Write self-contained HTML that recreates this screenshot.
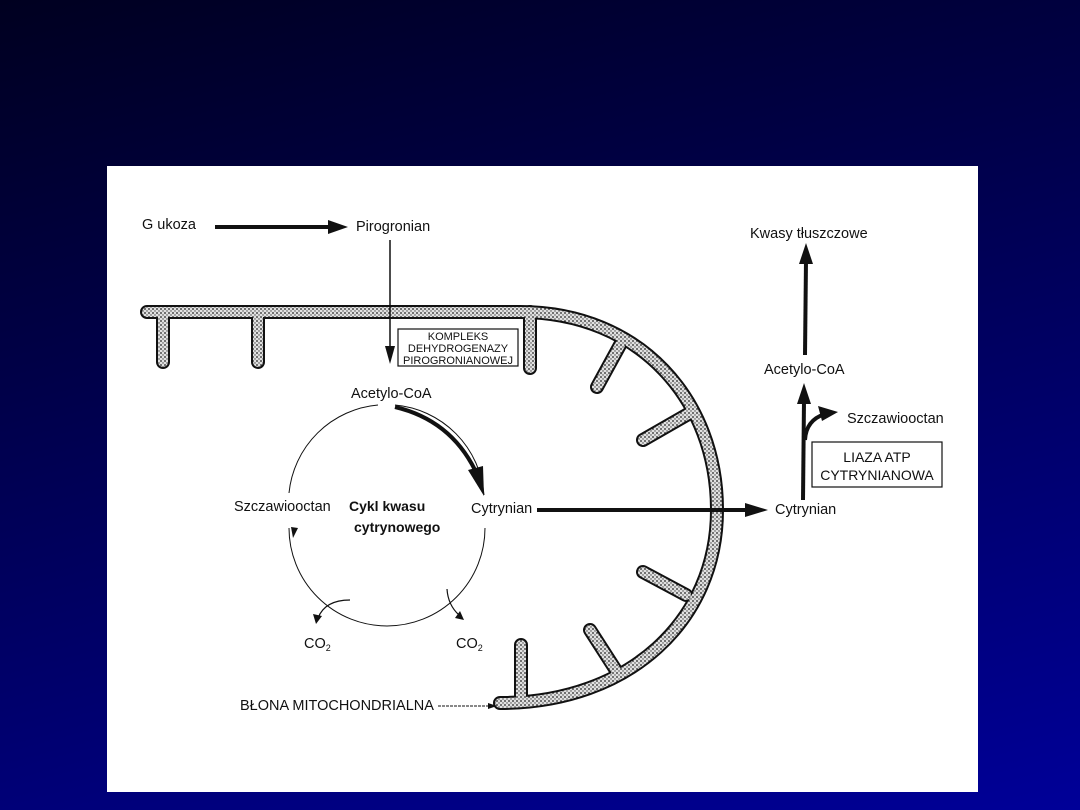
<!DOCTYPE html>
<html><head><meta charset="utf-8"><style>
html,body{margin:0;padding:0;width:1080px;height:810px;overflow:hidden;background:linear-gradient(165deg,#000020 0%,#000048 35%,#000098 100%);}
svg{position:absolute;left:0;top:0}
text{font-family:"Liberation Sans",sans-serif;font-size:14.5px;fill:#111}
</style></head><body>
<svg width="1080" height="810" viewBox="0 0 1080 810">
<defs>
<pattern id="dots" width="4" height="4" patternUnits="userSpaceOnUse">
<rect width="4" height="4" fill="#e0e0e0"/>
<circle cx="1" cy="1" r="0.9" fill="#222"/>
<circle cx="3" cy="3" r="0.7" fill="#444"/>
</pattern>
</defs>
<rect x="107" y="166" width="871" height="626" fill="#fff"/>
<g fill="none" stroke-linecap="round">
<g stroke="#111" stroke-width="14">
<path d="M147,312 L520,312 C640,312 717,400 717,510 C717,620 630,703 500,703"/>
<path d="M163,312 L163,362 M258,312 L258,362 M530,312 L530,368 M620,345 L597,387 M690,413 L643,440 M686,595 L643,572 M617,672 L590,630 M521,700 L521,645"/>
</g>
<g stroke="url(#dots)" stroke-width="10">
<path d="M147,312 L520,312 C640,312 717,400 717,510 C717,620 630,703 500,703"/>
<path d="M163,312 L163,362 M258,312 L258,362 M530,312 L530,368 M620,345 L597,387 M690,413 L643,440 M686,595 L643,572 M617,672 L590,630 M521,700 L521,645"/>
</g>
</g>
<line x1="215" y1="227" x2="330" y2="227" stroke="#111" stroke-width="4"/>
<path d="M328,220 L348,227 L328,234z" fill="#111"/>
<line x1="390" y1="240" x2="390" y2="350" stroke="#111" stroke-width="1.5"/>
<path d="M385,346 L390,364 L395,346z" fill="#111"/>
<rect x="398" y="329" width="120" height="37" fill="#fff" stroke="#111" stroke-width="1.2"/>
<path d="M395,405 A98,98 0 0 1 484,495" fill="none" stroke="#111" stroke-width="1"/>
<path d="M485,528 A98,98 0 0 1 289,528" fill="none" stroke="#111" stroke-width="1"/>
<path d="M289,493 A98,98 0 0 1 378,405" fill="none" stroke="#111" stroke-width="1"/>
<path d="M395,407 Q450,420 475,470" fill="none" stroke="#111" stroke-width="4"/>
<path d="M468,470 L484,496 L483,466z" fill="#111"/>
<path d="M291,527 L293,538 L298,528z" fill="#111"/>
<path d="M350,600 Q325,600 318,618" fill="none" stroke="#111" stroke-width="1.2"/>
<path d="M313,614 L316,624 L322,616z" fill="#111"/>
<path d="M447,589 Q448,605 459,615" fill="none" stroke="#111" stroke-width="1.2"/>
<path d="M455,618 L464,620 L460,611z" fill="#111"/>
<line x1="537" y1="510" x2="748" y2="510" stroke="#111" stroke-width="4"/>
<path d="M745,503 L768,510 L745,517z" fill="#111"/>
<line x1="803" y1="500" x2="804" y2="400" stroke="#111" stroke-width="4"/>
<path d="M797,404 L804,383 L811,404z" fill="#111"/>
<line x1="805" y1="355" x2="806" y2="260" stroke="#111" stroke-width="4"/>
<path d="M799,264 L806,243 L813,264z" fill="#111"/>
<path d="M805,440 Q806,420 825,414" fill="none" stroke="#111" stroke-width="4"/>
<path d="M818,406 L838,412 L822,421z" fill="#111"/>
<rect x="812" y="442" width="130" height="45" fill="#fff" stroke="#111" stroke-width="1.2"/>
<line x1="438" y1="706" x2="490" y2="706" stroke="#111" stroke-width="1" stroke-dasharray="3,1"/>
<path d="M488,703 L497,706 L488,709z" fill="#111"/>
<text x="142" y="229">G ukoza</text>
<text x="356" y="231">Pirogronian</text>
<text x="458" y="340" text-anchor="middle" style="font-size:11px">KOMPLEKS</text>
<text x="458" y="352" text-anchor="middle" style="font-size:11px">DEHYDROGENAZY</text>
<text x="458" y="364" text-anchor="middle" style="font-size:11px">PIROGRONIANOWEJ</text>
<text x="351" y="398">Acetylo-CoA</text>
<text x="234" y="511">Szczawiooctan</text>
<text x="349" y="511" style="font-weight:bold;font-size:14px">Cykl kwasu</text>
<text x="354" y="532" style="font-weight:bold;font-size:14px">cytrynowego</text>
<text x="471" y="513">Cytrynian</text>
<text x="775" y="514">Cytrynian</text>
<text x="764" y="374">Acetylo-CoA</text>
<text x="750" y="238">Kwasy tłuszczowe</text>
<text x="847" y="423">Szczawiooctan</text>
<text x="877" y="462" text-anchor="middle" style="font-size:14px">LIAZA ATP</text>
<text x="877" y="480" text-anchor="middle" style="font-size:14px">CYTRYNIANOWA</text>
<text x="304" y="648">CO<tspan style="font-size:9px" dy="3">2</tspan></text>
<text x="456" y="648">CO<tspan style="font-size:9px" dy="3">2</tspan></text>
<text x="240" y="710">BŁONA MITOCHONDRIALNA</text>
</svg>
</body></html>
